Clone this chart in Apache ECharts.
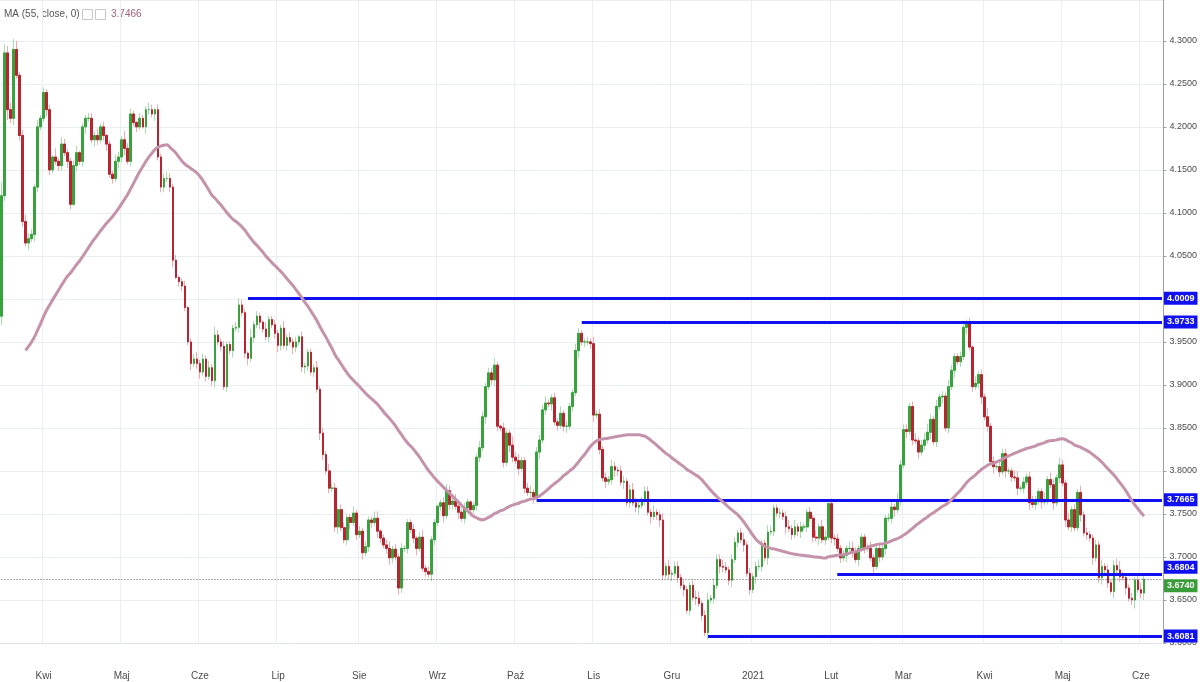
<!DOCTYPE html>
<html><head><meta charset="utf-8">
<script src="https://cdn.jsdelivr.net/npm/echarts@6/dist/echarts.min.js"></script>
<style>html,body{margin:0;padding:0;background:#fff}#c{width:1200px;height:682px}</style>
</head><body><div id="c"></div>
<script>
// Daily closes (open = previous close)
const closes = [
4.12,4.286,4.22,4.21,4.29,4.26,4.19,4.09,4.065,4.07,4.075,4.13,4.20,4.21,4.24,4.22,4.15,4.165,4.16,4.155,4.18,4.17,4.16,
4.11,4.155,4.17,4.16,4.20,4.21,4.21,4.185,4.19,4.185,4.20,4.19,4.18,4.145,4.14,4.16,4.165,4.185,4.175,4.16,
4.215,4.205,4.20,4.21,4.20,4.22,4.22,4.215,4.22,4.165,4.13,4.14,4.14,4.13,4.045,4.025,4.02,4.015,3.99,3.95,3.925,
3.93,3.925,3.915,3.93,3.91,3.92,3.905,3.958,3.95,3.945,3.898,3.947,3.94,3.966,3.967,3.993,3.984,3.937,
3.931,3.955,3.97,3.98,3.973,3.965,3.956,3.976,3.97,3.96,3.946,3.966,3.946,3.955,3.95,3.944,3.95,
3.956,3.921,3.922,3.938,3.915,3.92,3.895,3.844,3.819,3.80,3.78,3.78,3.735,3.755,3.734,
3.72,3.746,3.74,3.751,3.726,3.73,3.705,3.712,3.743,3.74,3.745,3.73,3.722,3.714,3.71,3.699,
3.709,3.70,3.664,3.71,3.71,3.74,3.732,3.722,3.71,3.723,3.687,3.683,3.68,3.72,3.74,
3.759,3.763,3.748,3.777,3.761,3.765,3.759,3.752,3.745,3.757,3.764,3.755,3.76,3.816,3.827,
3.863,3.898,3.914,3.906,3.923,3.852,3.85,3.81,3.844,3.83,3.816,3.812,3.803,3.812,3.78,
3.775,3.775,3.77,3.822,3.836,3.871,3.879,3.878,3.885,3.857,3.853,3.867,3.852,3.852,3.875,
3.891,3.94,3.96,3.95,3.95,
3.95,3.948,3.865,3.866,3.825,3.792,3.788,3.79,3.805,3.801,3.80,3.787,3.788,3.763,3.778,3.763,3.758,3.76,3.766,3.776,
3.752,3.747,3.752,3.749,3.743,3.679,3.689,3.68,3.681,3.689,3.676,3.667,3.662,3.638,3.667,3.653,3.652,3.646,3.632,3.612,
3.65,3.652,3.667,3.697,3.689,3.688,3.685,3.673,3.697,3.717,3.728,3.72,3.714,3.681,3.662,3.677,3.689,3.689,3.716,3.699,
3.729,3.73,3.757,3.751,
3.751,3.747,3.735,3.733,3.726,3.735,3.73,3.735,3.735,3.752,3.745,3.723,3.722,3.735,3.72,3.723,3.762,3.722,3.721,3.71,
3.699,3.702,3.71,3.71,3.705,3.697,3.71,3.723,3.71,3.71,3.699,3.689,3.71,3.70,3.71,3.745,3.745,3.758,3.755,3.766,
3.807,3.848,3.846,3.875,3.836,3.835,3.822,3.83,3.836,3.845,3.86,3.834,3.875,3.886,3.887,3.85,3.898,3.917,3.933,3.927,
3.933,3.967,3.972,3.944,3.898,
3.902,3.912,3.886,3.863,3.852,3.811,3.805,3.805,3.799,3.82,3.80,3.80,3.793,3.792,3.78,3.78,3.787,3.793,3.763,3.761,
3.765,3.776,3.764,3.767,3.79,3.784,3.763,3.792,3.807,3.786,3.743,3.735,3.755,3.734,3.775,3.749,3.728,3.726,3.722,3.699,
3.714,3.676,3.689,3.685,3.67,3.66,3.69,3.685,3.677,3.676,3.664,3.652,3.65,3.673,3.662,3.658,3.674
];
const firstOpen = 3.98;
// upper / lower wick lengths per candle, in units of 0.002
const upperWicks = "8544652343324232315243223412233242312243253321322431323432312312" +
 "342324253232223432152321422322423231322224232433133224232322441234" +
 "23232223134232212343443232122432334213225342234233342232423224322" +
 "3242323243233234322332422424233232234423424334323323423234224322" +
 "32342423223242442323232443222342323234243332342345324232432234231" +
 "423252324332244232343224243243242324232232423234532232342";
const lowerWicks = "5363423324243224322332431323422432342324342323214324233234133224" +
 "234232342323242323423242232343232432343232432323422342324233243234" +
 "32432323422324323423324232423324234323243242323424232423234232423" +
 "2342324234324232342324234323423242324232423243234232423242324232" +
 "32423234232324232342324232423224232423423242324232423242324232423" +
 "234232423242324232423242324232423224232423423242324235234";
// closes before the first visible bar, used only for the 55-bar moving average
const priorCloses = [3.80,3.81,3.80,3.79,3.78,3.79,3.80,3.81,3.82,3.83,3.84,3.85,3.86,3.87,3.88,3.90,3.89,3.91,3.92,3.93,3.92,3.91,3.90,3.92,3.93,3.94,3.95,3.94,3.93,3.92,3.91,3.90,3.89,3.88,3.86,3.85,3.84,3.83,3.85,3.88,3.90,3.94,3.97,3.99,4.02,4.05,4.08];
const maFirstShown = 8;
const levels = [
  {v:4.0009, from:82, va:'middle'}, {v:3.9733, from:193, va:'middle'}, {v:3.7665, from:178, va:'middle'},
  {v:3.6804, from:278, va:'bottom'}, {v:3.6081, from:235, va:'middle'}
];
const monthNames = ['Sty','Lut','Mar','Kwi','Maj','Cze','Lip','Sie','Wrz','Paź','Lis','Gru'];
const startDate = [2020, 2, 16];
const emptyBarsRight = 6;
const maLegend = 'MA (55, close, 0)';
const maLegendValue = '3.7466';

const N = closes.length + emptyBarsRight;
const cats = [], months = [];
let d = new Date(Date.UTC(startDate[0], startDate[1], startDate[2]));
while (cats.length < N) {
  if (d.getUTCDay() !== 6) { cats.push(d.toISOString().slice(0,10)); months.push(d.getUTCMonth()); }
  d = new Date(d.getTime() + 86400000);
}
const isMonthStart = i => i > 0 && months[i] !== months[i-1];

const wickData = [], bodyData = [];
closes.forEach((c, i) => {
  const o = i === 0 ? firstOpen : closes[i-1];
  const hi = Math.max(o,c) + (+upperWicks[i] || 0) * 0.002;
  const lo = Math.min(o,c) - (+lowerWicks[i] || 0) * 0.002;
  wickData.push([o, c, lo, hi]);
  bodyData.push([o, c, Math.min(o,c), Math.max(o,c)]);
});
const all = priorCloses.concat(closes), P = priorCloses.length;
const ma = closes.map((_, i) => {
  if (i < maFirstShown) return null;
  let s = 0; for (let k = P + i - 54; k <= P + i; k++) s += all[k];
  return +(s / 55).toFixed(4);
});
const last = closes[closes.length-1];

const lvlLines = levels.map(L => [
  {coord:[cats[L.from], L.v]},
  {coord:[cats[N-1], L.v], label:{formatter: L.v.toFixed(4), verticalAlign:L.va}}
]);
const FONT = 'Arial, Liberation Sans, sans-serif';

const chart = echarts.init(document.getElementById('c'));
chart.setOption({
  animation:false,
  grid:{left:0, right:35, top:0, bottom:39},
  xAxis:{type:'category', data:cats, boundaryGap:true,
    axisLine:{show:true, lineStyle:{color:'#e0e3eb'}}, axisTick:{show:false},
    axisLabel:{interval:(i)=>isMonthStart(i), margin:28, color:'#4a4a4a', fontSize:10, fontFamily:FONT,
      formatter:(v)=>{const m=+v.slice(5,7)-1; return m===0? v.slice(0,4) : monthNames[m];}},
    splitLine:{show:true, interval:(i)=>isMonthStart(i), lineStyle:{color:'#e9eef2'}}},
  yAxis:{type:'value', position:'right', min:3.6, max:4.3475, interval:0.05,
    axisLine:{show:true, lineStyle:{color:'#9aa0a6'}}, axisTick:{show:true, length:3, lineStyle:{color:'#9aa0a6'}},
    axisLabel:{color:'#4a4a4a', fontSize:9, margin:6, fontFamily:FONT, showMaxLabel:false,
      formatter:v=>v.toFixed(4)},
    splitLine:{lineStyle:{color:'#e9eef2'}}},
  series:[
    {type:'candlestick', data:wickData, barWidth:'70%',
      itemStyle:{color:'#a6dcae', color0:'#f2a9b0', borderColor:'#a6dcae', borderColor0:'#f2a9b0', borderWidth:1},
      markLine:{symbol:'none', silent:true,
        lineStyle:{color:'#1010f0', width:3, type:'solid'},
        label:{show:true, position:'end', distance:2, color:'#fff', backgroundColor:'#1010f0',
          fontSize:9, fontWeight:'bold', padding:[2,3], fontFamily:FONT},
        data: lvlLines.concat([[
          {coord:[cats[0], last]}, {coord:[cats[N-1], last], label:{formatter:last.toFixed(4), backgroundColor:'#3a9d3a', verticalAlign:'top'},
           lineStyle:{color:'#555', width:1, type:[1,2]}}
        ]])}},
    {type:'candlestick', data:bodyData, barWidth:'70%',
      itemStyle:{color:'#38a23c', color0:'#b8242f', borderColor:'#38a23c', borderColor0:'#b8242f', borderWidth:1}},
    {type:'line', data:ma, showSymbol:false, smooth:true, connectNulls:false,
      lineStyle:{color:'#c492aa', width:3}, z:5}
  ],
  graphic:[
    {type:'text', left:4, top:9, style:{text:maLegend, fill:'#555', fontSize:10, fontFamily:FONT}},
    {type:'rect', left:82, top:9, shape:{width:10,height:10}, style:{fill:'#fff', stroke:'#c8c8c8'}},
    {type:'rect', left:95, top:9, shape:{width:10,height:10}, style:{fill:'#fff', stroke:'#c8c8c8'}},
    {type:'text', left:111, top:9, style:{text:maLegendValue, fill:'#a0607a', fontSize:10, fontFamily:FONT}}
  ]
});
</script></body></html>
